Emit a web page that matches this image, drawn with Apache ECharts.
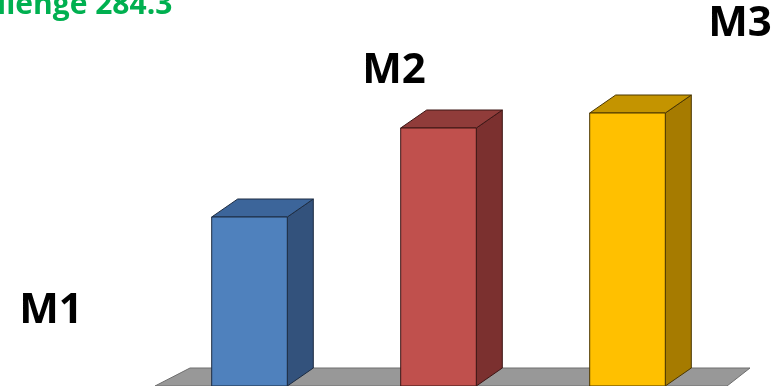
<!DOCTYPE html>
<html lang="en">
<head>
    <meta charset="UTF-8">
    <title>M1 M2 M3</title>
    <style>
        html,body{
            width: 100%;
            height: 100%;
            margin: 0;
            padding: 0;
            background: #fff;
        }
    </style>
</head>
<body>
<div id="main" style="width: 775px;height:386px;"></div>

<script src="https://cdn.jsdelivr.net/npm/echarts@6/dist/echarts.min.js"></script>
<script>
    // data
    var categories = ['M1', 'M2', 'M3'];
    var values = [169, 258, 273];
    var headline = 'llenge 284.3';

    // front / top / side colours for each box
    var frontColors = ['#4f81bd', '#c0504d', '#ffc000'];
    var topColors = ['#3c659a', '#903c3a', '#c49400'];
    var sideColors = ['#33527c', '#7b302f', '#a67b00'];
    var edgeColors = ['#1d2c42', '#3d1615', '#4a3600'];

    var DX = 26, DY = -18;

    var myChart = echarts.init(document.getElementById('main'));

    function renderFloor(params, api) {
        var cs = params.coordSys;
        var x0 = cs.x, x1 = cs.x + cs.width, yb = cs.y + cs.height;
        return {
            type: 'polygon',
            shape: {
                points: [[x0, yb], [x1 + 5, yb], [x1 + 2 + DX, yb + DY], [x0 + DX + 9, yb + DY]]
            },
            style: {fill: '#989898', stroke: '#6e6e6e', lineWidth: 1}
        };
    }

    function renderBox(params, api) {
        var i = params.dataIndex;
        var top = api.coord([api.value(0), api.value(1)]);
        var base = api.coord([api.value(0), 0]);
        var w = api.size([1, 0])[0] * 0.4;
        var l = top[0] - w / 2, r = top[0] + w / 2;
        var t = top[1], b = base[1];
        var edge = {stroke: edgeColors[i], lineWidth: 1};
        return {
            type: 'group',
            children: [
                {
                    type: 'polygon',
                    shape: {points: [[r, t], [r + DX, t + DY], [r + DX, b + DY], [r, b]]},
                    style: Object.assign({fill: sideColors[i]}, edge)
                },
                {
                    type: 'polygon',
                    shape: {points: [[l, t], [l + DX, t + DY], [r + DX, t + DY], [r, t]]},
                    style: Object.assign({fill: topColors[i]}, edge)
                },
                {
                    type: 'rect',
                    shape: {x: l, y: t, width: w, height: b - t},
                    style: Object.assign({fill: frontColors[i]}, edge)
                }
            ]
        };
    }

    var labelPos = [[51, 311], [394, 71], [740, 24]];

    myChart.setOption({
        animation: false,
        grid: {left: 155, right: 53, top: 86, bottom: 0},
        xAxis: {type: 'category', data: categories, show: false},
        yAxis: {type: 'value', min: 0, max: 300, show: false},
        graphic: [{
            type: 'text',
            x: -3,
            y: 5,
            style: {
                text: headline,
                fill: '#00b050',
                font: 'bold 30px "Open Sans"',
                verticalAlign: 'middle'
            }
        }].concat(categories.map(function (c, i) {
            return {
                type: 'text',
                x: labelPos[i][0],
                y: labelPos[i][1],
                style: {
                    text: c,
                    fill: '#000',
                    font: 'bold 42px "Open Sans"',
                    align: 'center',
                    verticalAlign: 'middle'
                }
            };
        })),
        series: [
            {
                type: 'custom',
                renderItem: renderFloor,
                data: [[0, 0]],
                z: 1,
                silent: true
            },
            {
                type: 'custom',
                renderItem: renderBox,
                data: values.map(function (v, i) { return [i, v]; }),
                z: 2
            }
        ]
    });
</script>
</body>
</html>
